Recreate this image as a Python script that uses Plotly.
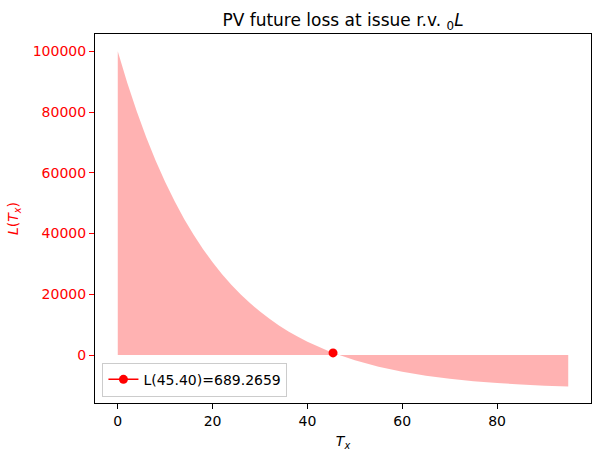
import plotly.graph_objects as go

# Time of death T_x and PV future loss L(T_x)
t_vals = [0, 2, 4, 6, 8, 10, 12, 14, 16, 18, 20, 22, 24, 26, 28, 30, 32, 34, 36, 38, 40,
          45, 50, 55, 60, 65, 70, 75, 80, 85, 90, 95]
loss_vals = [100000, 89636, 80235, 71708, 63974, 56960, 50597, 44826, 39591, 34843, 30537,
             26631, 23088, 19874, 16959, 14315, 11917, 9742, 7769, 5980, 4356,
             929, -1757, -3862, -5511, -6803, -7815, -8608, -9229, -9716, -10098, -10397]

# Highlighted point
pt_t = [45.40]
pt_loss = [689.2659]
pt_label = "L(45.40)=689.2659"

y_ticks = [0, 20000, 40000, 60000, 80000, 100000]
y_tick_text = ["0", "20000", "40000", "60000", "80000", "100000"]
x_ticks = [0, 20, 40, 60, 80]
x_tick_text = ["0", "20", "40", "60", "80"]

fig = go.Figure()
fig.add_trace(go.Scatter(
    x=t_vals, y=loss_vals, mode="none", fill="tozeroy",
    fillcolor="rgba(255,0,0,0.3)", showlegend=False, hoverinfo="skip"))
fig.add_trace(go.Scatter(
    x=pt_t, y=pt_loss, mode="lines+markers", name=pt_label,
    line=dict(color="red", width=1.5),
    marker=dict(color="red", size=9)))

font_family = "DejaVu Sans"
fig.update_layout(
    width=601, height=459,
    margin=dict(l=95, r=10, t=34, b=56),
    paper_bgcolor="white", plot_bgcolor="white",
    font=dict(family=font_family, size=14, color="black"),
    title=dict(text="PV future loss at issue r.v. <sub>0</sub><i>L</i>",
               x=(95 + 591) / 2 / 601, xanchor="center",
               y=1 - 20 / 459, yanchor="middle",
               font=dict(size=17, color="black")),
    showlegend=True,
    legend=dict(x=0.015, y=0.017, xanchor="left", yanchor="bottom",
                bgcolor="rgba(255,255,255,0.8)", bordercolor="#cccccc", borderwidth=1,
                font=dict(size=14)),
    xaxis=dict(range=[-4.8, 99.8], tickvals=x_ticks, ticktext=x_tick_text,
               ticks="outside", ticklen=5,
               tickcolor="black", showgrid=False, zeroline=False,
               showline=True, linecolor="black", linewidth=1.1, mirror=True,
               title=dict(text="<i>T<sub>x</sub></i>", standoff=8,
                          font=dict(size=14))),
    yaxis=dict(range=[-15800, 105700], tickvals=y_ticks, ticktext=y_tick_text,
               ticks="outside", ticklen=5,
               tickcolor="red", tickfont=dict(color="red"), showgrid=False, zeroline=False,
               showline=True, linecolor="black", linewidth=1.1, mirror=True,
               title=dict(text="<i>L</i>(<i>T<sub>x</sub></i>)", standoff=10,
                          font=dict(size=14, color="red"))),
)

fig.write_html("out.html")
